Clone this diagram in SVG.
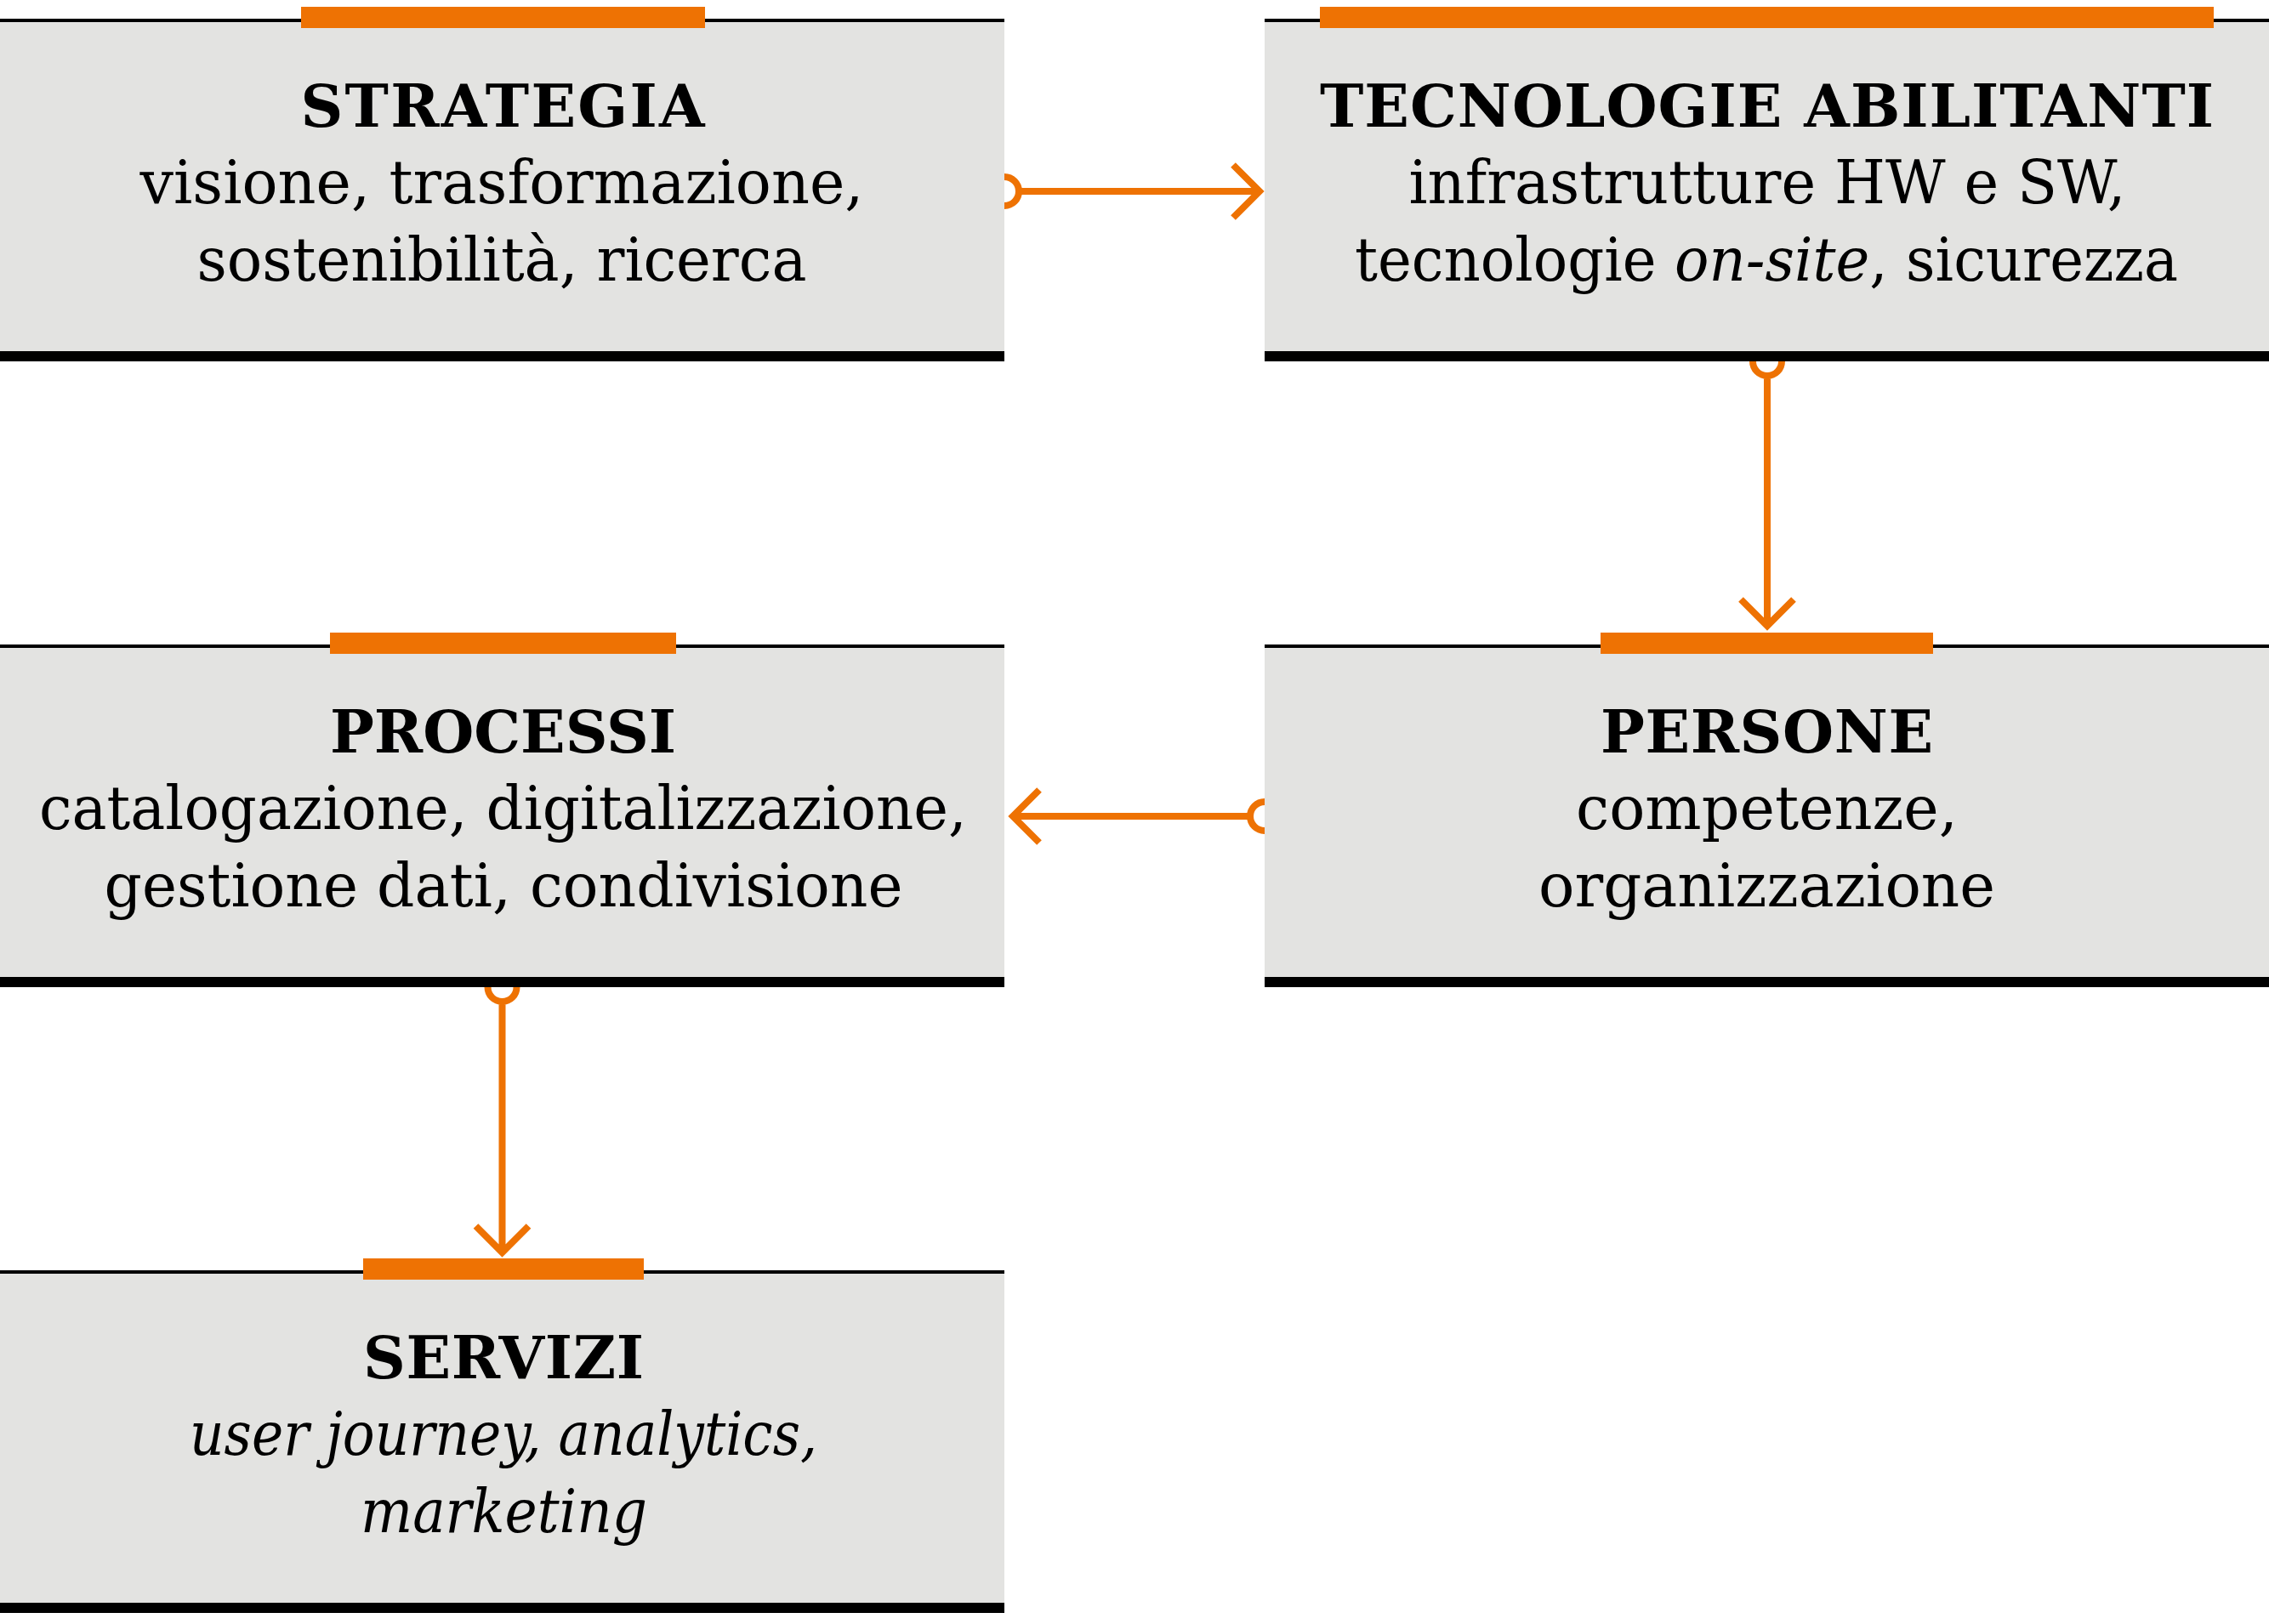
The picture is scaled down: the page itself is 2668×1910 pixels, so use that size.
<svg xmlns="http://www.w3.org/2000/svg" width="2668" height="1910" viewBox="0 0 2668 1910">
<style>
.bg{fill:#e3e3e1}
.top{stroke:#000;stroke-width:4}
.bot{fill:#000}
.bar{fill:#ee7203}
.t{font-family:"DejaVu Serif","Liberation Serif",serif;font-weight:bold;font-size:69px;fill:#000;text-anchor:middle}
.b{font-family:"DejaVu Serif","Liberation Serif",serif;font-size:71px;fill:#000;text-anchor:middle}
.i{font-style:italic}
.c{fill:none;stroke:#ee7203;stroke-width:8;stroke-linejoin:miter;stroke-linecap:butt}
</style>
<rect width="2668" height="1910" fill="#fff"/>
<g id="strategia">
<rect class="bg" x="0" y="24" width="1181" height="395"/>
<line class="top" x1="0" y1="24" x2="1181" y2="24"/>
<rect class="bot" x="0" y="413" width="1181" height="12"/>
<rect class="bar" x="354" y="8" width="475" height="25"/>
<text class="t" x="591" y="149" textLength="475" lengthAdjust="spacing">STRATEGIA</text>
<text class="b" x="590" y="239" textLength="851" lengthAdjust="spacingAndGlyphs">visione, trasformazione,</text>
<text class="b" x="590" y="330" textLength="717" lengthAdjust="spacingAndGlyphs">sostenibilità, ricerca</text>
</g>
<g id="tecnologie">
<rect class="bg" x="1487" y="24" width="1181" height="395"/>
<line class="top" x1="1487" y1="24" x2="2668" y2="24"/>
<rect class="bot" x="1487" y="413" width="1181" height="12"/>
<rect class="bar" x="1552" y="8" width="1051" height="25"/>
<text class="t" x="2077.5" y="149" textLength="1051" lengthAdjust="spacing">TECNOLOGIE ABILITANTI</text>
<text class="b" x="2078" y="239" textLength="843" lengthAdjust="spacingAndGlyphs">infrastrutture HW e SW,</text>
<text class="b" x="2077" y="330" textLength="968" lengthAdjust="spacingAndGlyphs">tecnologie <tspan class="i">on-site</tspan>, sicurezza</text>
</g>
<g id="processi">
<rect class="bg" x="0" y="760" width="1181" height="395"/>
<line class="top" x1="0" y1="760" x2="1181" y2="760"/>
<rect class="bot" x="0" y="1149" width="1181" height="12"/>
<rect class="bar" x="388" y="744" width="407" height="25"/>
<text class="t" x="591.5" y="885" textLength="407" lengthAdjust="spacing">PROCESSI</text>
<text class="b" x="591.5" y="975" textLength="1091" lengthAdjust="spacingAndGlyphs">catalogazione, digitalizzazione,</text>
<text class="b" x="592" y="1066" textLength="939" lengthAdjust="spacingAndGlyphs">gestione dati, condivisione</text>
</g>
<g id="persone">
<rect class="bg" x="1487" y="760" width="1181" height="395"/>
<line class="top" x1="1487" y1="760" x2="2668" y2="760"/>
<rect class="bot" x="1487" y="1149" width="1181" height="12"/>
<rect class="bar" x="1882" y="744" width="391" height="25"/>
<text class="t" x="2077.5" y="885" textLength="391" lengthAdjust="spacing">PERSONE</text>
<text class="b" x="2077.5" y="975" textLength="449" lengthAdjust="spacingAndGlyphs">competenze,</text>
<text class="b" x="2077.5" y="1066" textLength="537" lengthAdjust="spacingAndGlyphs">organizzazione</text>
</g>
<g id="servizi">
<rect class="bg" x="0" y="1496" width="1181" height="395"/>
<line class="top" x1="0" y1="1496" x2="1181" y2="1496"/>
<rect class="bot" x="0" y="1885" width="1181" height="12"/>
<rect class="bar" x="427" y="1480" width="330" height="25"/>
<text class="t" x="592" y="1621" textLength="330" lengthAdjust="spacing">SERVIZI</text>
<text class="b i" x="592" y="1711" textLength="738" lengthAdjust="spacingAndGlyphs">user journey, analytics,</text>
<text class="b i" x="592.5" y="1802" textLength="337" lengthAdjust="spacingAndGlyphs">marketing</text>
</g>
<g id="connectors">
<path class="c" d="M1181,208 A17,17 0 0 1 1181,242 M1198,225 L1481,225 M1450,194 L1481,225 L1450,256"/>
<path class="c" d="M2061,425 A17,17 0 0 0 2095,425 M2078,442 L2078,736 M2047,705 L2078,736 L2109,705"/>
<path class="c" d="M1487,943 A17,17 0 0 0 1487,977 M1470,960 L1191,960 M1222,929 L1191,960 L1222,991"/>
<path class="c" d="M573.5,1161 A17,17 0 0 0 607.5,1161 M590.5,1178 L590.5,1473 M559.5,1442 L590.5,1473 L621.5,1442"/>
</g>
</svg>
